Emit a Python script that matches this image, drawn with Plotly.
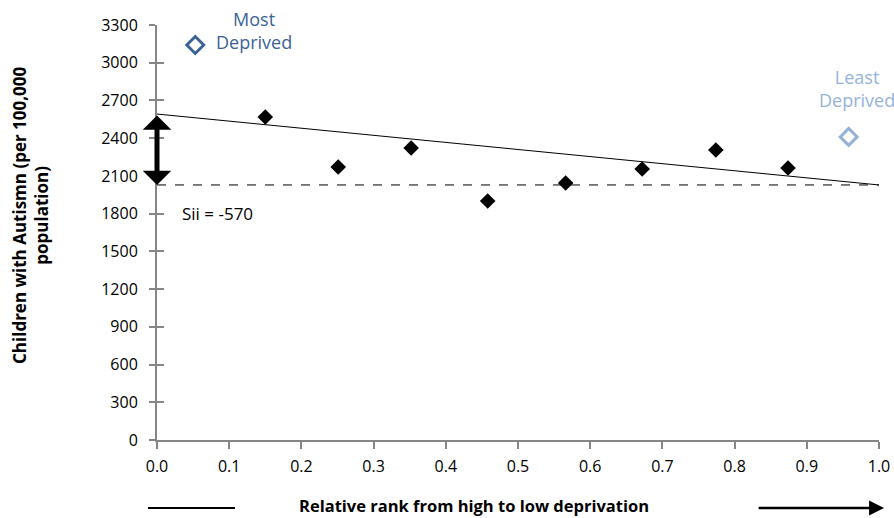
import plotly.graph_objects as go

# Data
rank = [0.150, 0.251, 0.352, 0.458, 0.566, 0.672, 0.774, 0.874]
rate = [2568, 2171, 2322, 1900, 2044, 2155, 2306, 2163]
trend_x = [0.0, 1.0]
trend_y = [2592, 2028]
most_x, most_y = [0.053], [3141]
least_x, least_y = [0.958], [2410]
sii_label = "Sii = -570"
yticks = [0, 300, 600, 900, 1200, 1500, 1800, 2100, 2400, 2700, 3000, 3300]
xticks = [0.0, 0.1, 0.2, 0.3, 0.4, 0.5, 0.6, 0.7, 0.8, 0.9, 1.0]

FONT = "Open Sans"
AX = "#868686"
DARK = "#3A6396"
LIGHT = "#95B3D7"

fig = go.Figure()
fig.add_trace(go.Scatter(x=trend_x, y=trend_y, mode="lines",
                         line=dict(color="black", width=1), showlegend=False))
fig.add_trace(go.Scatter(x=trend_x, y=[trend_y[1], trend_y[1]], mode="lines",
                         line=dict(color="black", width=1, dash="dash"), showlegend=False))
fig.add_trace(go.Scatter(x=rank, y=rate, mode="markers",
                         marker=dict(symbol="diamond", size=12, color="black"), showlegend=False))
fig.add_trace(go.Scatter(x=most_x, y=most_y, mode="markers",
                         marker=dict(symbol="diamond-open", size=13, color=DARK, line=dict(width=3, color=DARK)),
                         showlegend=False, cliponaxis=False))
fig.add_trace(go.Scatter(x=least_x, y=least_y, mode="markers",
                         marker=dict(symbol="diamond-open", size=13, color=LIGHT, line=dict(width=3, color=LIGHT)),
                         showlegend=False, cliponaxis=False))
# invisible trace for the inner tick axis
fig.add_trace(go.Scatter(x=[0], y=[0], yaxis="y2", mode="markers",
                         marker=dict(opacity=0), showlegend=False, hoverinfo="skip"))

fig.update_layout(
    width=894, height=518,
    margin=dict(l=157, r=15, t=25, b=78, autoexpand=False),
    paper_bgcolor="white", plot_bgcolor="white",
    font=dict(family=FONT, size=16, color="black"),
    xaxis=dict(range=[0, 1], tickvals=xticks, tickformat=".1f", showgrid=False, zeroline=False,
               showline=True, linecolor=AX, linewidth=2, ticks="outside", tickcolor=AX,
               ticklen=7, tickwidth=2, tickfont=dict(size=16), ticklabelstandoff=4,
               automargin=False),
    yaxis=dict(range=[0, 3300], tickvals=yticks, showgrid=False, zeroline=False,
               showline=True, linecolor=AX, linewidth=2, ticks="outside", tickcolor=AX,
               ticklen=6, tickwidth=2, tickfont=dict(size=16), ticklabelstandoff=8,
               automargin=False),
    yaxis2=dict(range=[0, 3300], tickvals=yticks, overlaying="y", side="left", showgrid=False,
                zeroline=False, showline=False, ticks="inside", tickcolor=AX, ticklen=7,
                tickwidth=2, showticklabels=False, automargin=False),
)

# double-headed arrow showing Sii
fig.add_annotation(x=0, y=trend_y[1], ax=0, ay=trend_y[0], xref="x", yref="y", axref="x", ayref="y",
                   text="", showarrow=True, arrowside="end+start", arrowhead=1, arrowsize=0.95,
                   arrowwidth=5, arrowcolor="black")
fig.add_annotation(x=0.032, y=1805, xref="x", yref="y", text=sii_label, showarrow=False,
                   xanchor="left", yanchor="middle", font=dict(size=17, color="black"))

fig.add_annotation(x=0.134, y=3260, xref="x", yref="y", text="Most<br>Deprived", showarrow=False,
                   xanchor="center", yanchor="middle", font=dict(size=18, color=DARK))
fig.add_annotation(x=0.969, y=2795, xref="x", yref="y", text="Least<br>Deprived", showarrow=False,
                   xanchor="center", yanchor="middle", font=dict(size=18, color=LIGHT))

# y title
fig.add_annotation(x=-0.176, y=0.542, xref="paper", yref="paper", textangle=-90,
                   xanchor="center", yanchor="middle",
                   text="<b>Children with Autismn (per 100,000<br>population)</b>", showarrow=False,
                   font=dict(size=17, color="black"))
# x title and decorations
fig.add_annotation(x=0.439, y=-0.159, xref="paper", yref="paper", xanchor="center", yanchor="middle",
                   text="<b>Relative rank from high to low deprivation</b>", showarrow=False,
                   font=dict(size=16.5, color="black"))
fig.add_shape(type="line", xref="paper", yref="paper", x0=-0.0125, x1=0.108, y0=-0.164, y1=-0.164,
              line=dict(color="black", width=2))
fig.add_annotation(x=1.007, y=-0.164, xref="paper", yref="paper", ax=-127, ay=0, text="",
                   showarrow=True, arrowhead=2, arrowsize=1.2, arrowwidth=2.5, arrowcolor="black")

fig.write_html("out.html", config={"displayModeBar": False},
               post_script="document.body.style.margin='0';")
